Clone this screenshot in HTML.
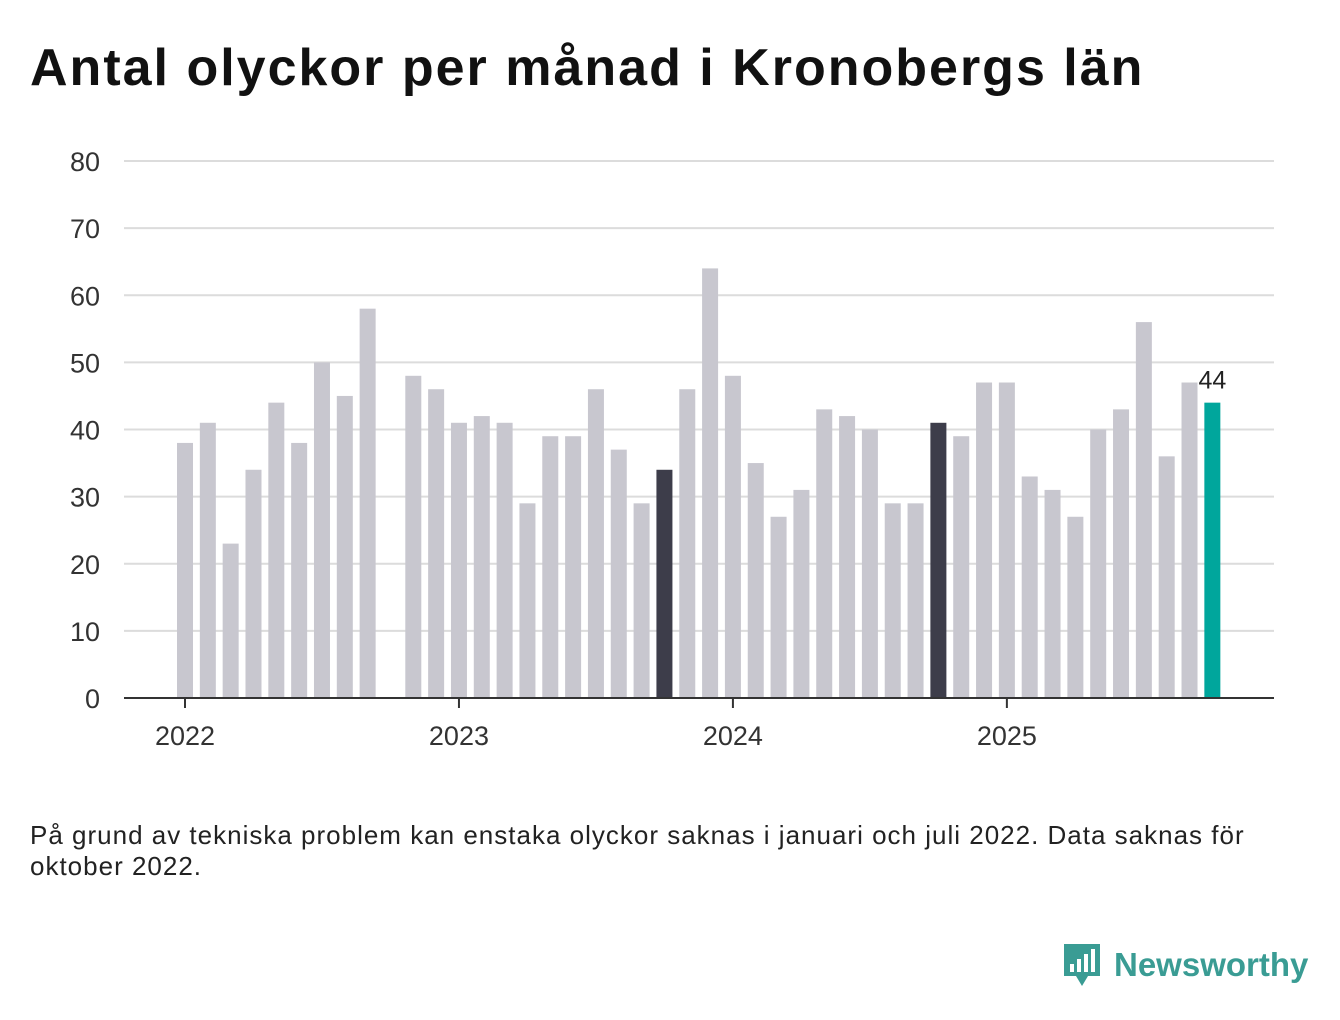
<!DOCTYPE html>
<html><head><meta charset="utf-8"><style>
body{margin:0;background:#fff;width:1340px;height:1020px;overflow:hidden;font-family:"Liberation Sans",sans-serif}
#title{position:absolute;left:30px;top:38px;font-size:52px;font-weight:bold;color:#111;letter-spacing:2px}
#note{position:absolute;left:30px;top:820px;width:1220px;font-size:26px;letter-spacing:1px;line-height:31px;color:#222}
#logo{position:absolute;left:1062px;top:940px;display:flex;align-items:center}
#logo span{font-size:33px;font-weight:bold;color:#3a9c94;margin-left:12px}
</style></head><body>
<div id="title">Antal olyckor per månad i Kronobergs län</div>
<svg id="chart" width="1340" height="1020" style="position:absolute;left:0;top:0"></svg>
<div id="note">På grund av tekniska problem kan enstaka olyckor saknas i januari och juli 2022. Data saknas för oktober 2022.</div>
<div id="logo">
<svg width="40" height="50"><path d="M2 4h36v32H26l-6 10-6-10H2z" fill="#3a9c94"/><rect x="8" y="24" width="4" height="8" fill="#fff"/><rect x="15" y="19" width="4" height="13" fill="#fff"/><rect x="22" y="14" width="4" height="18" fill="#fff"/><rect x="29" y="9" width="4" height="23" fill="#fff"/></svg>
<span>Newsworthy</span></div>
<script>
const values=[38,41,23,34,44,38,50,45,58,null,48,46,
41,42,41,29,39,39,46,37,29,34,46,64,
48,35,27,31,43,42,40,29,29,41,39,47,
47,33,31,27,40,43,56,36,47,44];
const yTicks=[0,10,20,30,40,50,60,70,80];
const yearLabels=["2022","2023","2024","2025"];
const highlightLabel="44";
const svg=document.getElementById('chart');
const NS='http://www.w3.org/2000/svg';
const y0=698,yTop=161,yMax=80;
const y=v=>y0-(v/yMax)*(y0-yTop);
const x=i=>185+i*22.83;
function mk(t,a){const e=document.createElementNS(NS,t);for(const k in a)e.setAttribute(k,a[k]);svg.appendChild(e);return e;}
yTicks.forEach(t=>{
 if(t>0){const l=mk('line',{x1:124,x2:1274,y1:y(t),y2:y(t),stroke:'#dcdcdc','stroke-width':2});
 
 }
 const tx=mk('text',{x:100,y:y(t)+10,'text-anchor':'end','font-size':27,fill:'#333','font-family':'Liberation Sans'});
 tx.textContent=t;
 
 
});
const last=values.length-1;
values.forEach((v,i)=>{
 if(v==null)return;
 let c='#c8c7cf';
 if(i===last)c='#00a69c';else if(i%12===last%12)c='#3d3d4a';
 const r=mk('rect',{x:x(i)-8,y:y(v),width:16,height:y0-y(v),fill:c});
 
 
});
const lb=mk('text',{x:x(last),y:y(values[last])-14,'text-anchor':'middle','font-size':25,fill:'#222','font-family':'Liberation Sans'});
lb.textContent=highlightLabel;


const ax=mk('line',{x1:124,x2:1274,y1:y0,y2:y0,stroke:'#333','stroke-width':2});


yearLabels.forEach((yl,k)=>{
 const xi=x(k*12);
 const tk=mk('line',{x1:xi,x2:xi,y1:y0,y2:y0+10,stroke:'#333','stroke-width':2});
 
 
 const t=mk('text',{x:xi,y:745,'text-anchor':'middle','font-size':27,fill:'#333','font-family':'Liberation Sans'});
 t.textContent=yl;
 
 
});
</script>
</body></html>
